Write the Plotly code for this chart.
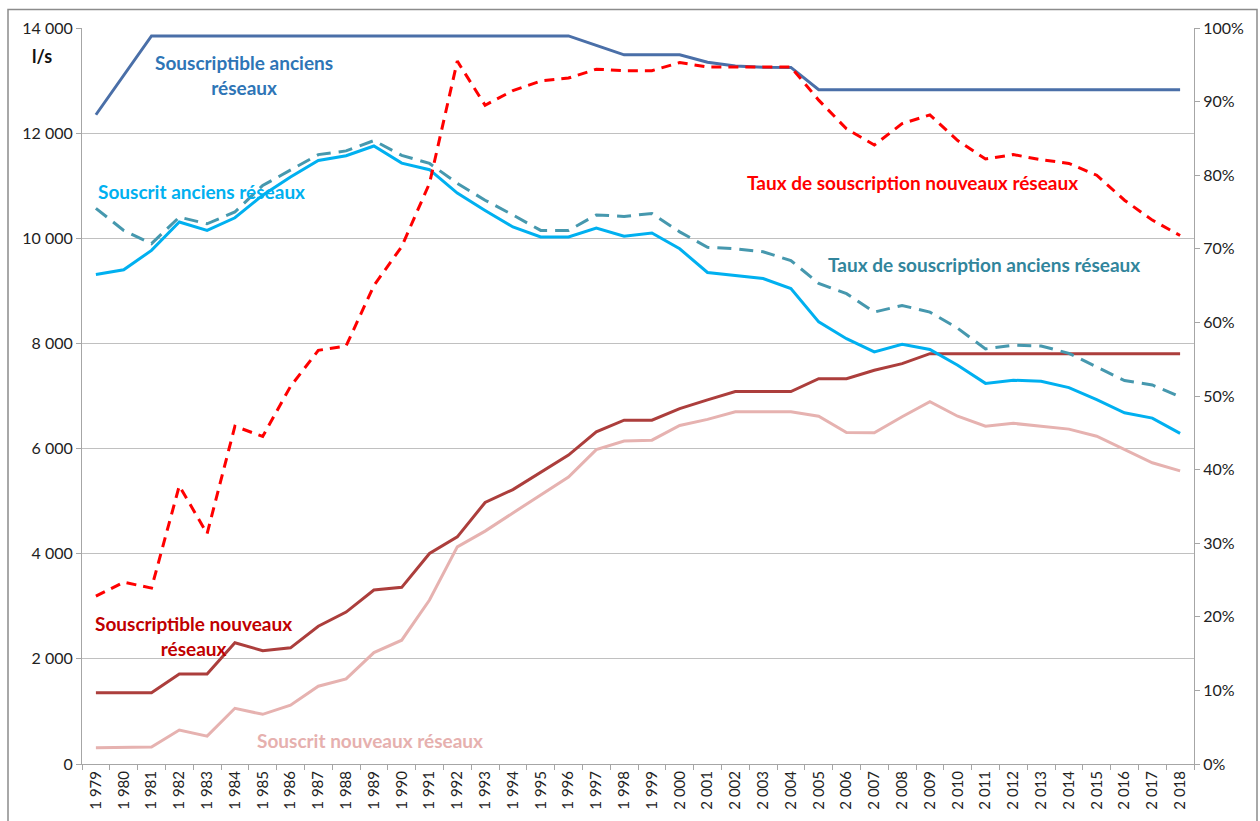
import plotly.graph_objects as go

years = list(range(1979, 2019))
year_labels = [f"{y // 1000} {y % 1000:03d}" for y in years]

souscriptible_anciens = [12350, 13100, 13850, 13850, 13850, 13850, 13850, 13850, 13850, 13850,
                         13850, 13850, 13850, 13850, 13850, 13850, 13850, 13850, 13670, 13490,
                         13490, 13490, 13350, 13275, 13255, 13250, 12825, 12825, 12825, 12825,
                         12825, 12825, 12825, 12825, 12825, 12825, 12825, 12825, 12825, 12825]

souscrit_anciens = [9310, 9400, 9770, 10310, 10150, 10390, 10820, 11165, 11480, 11570,
                    11755, 11430, 11305, 10860, 10530, 10215, 10025, 10025, 10195, 10040,
                    10100, 9800, 9350, 9295, 9235, 9045, 8410, 8090, 7840, 7985,
                    7885, 7585, 7240, 7300, 7280, 7160, 6930, 6680, 6580, 6290]

souscriptible_nouveaux = [1355, 1355, 1355, 1710, 1710, 2305, 2155, 2210, 2620, 2890,
                          3310, 3360, 4005, 4320, 4975, 5220, 5540, 5875, 6320, 6540,
                          6540, 6760, 6925, 7085, 7085, 7085, 7330, 7330, 7490, 7615,
                          7805, 7805, 7805, 7805, 7805, 7805, 7805, 7805, 7805, 7805]

souscrit_nouveaux = [310, 323, 323, 645, 530, 1060, 945, 1120, 1480, 1620,
                     2120, 2355, 3120, 4130, 4430, 4775, 5125, 5460, 5980, 6145,
                     6160, 6440, 6555, 6700, 6700, 6700, 6615, 6305, 6300, 6605,
                     6890, 6615, 6425, 6480, 6425, 6370, 6235, 5980, 5730, 5575]

taux_nouveaux = [22.8, 24.7, 23.9, 37.8, 31.3, 45.9, 44.5, 51.3, 56.2, 56.8,
                 65.0, 70.3, 78.9, 95.5, 89.5, 91.5, 92.8, 93.2, 94.4, 94.2,
                 94.2, 95.3, 94.7, 94.7, 94.6, 94.7, 90.2, 86.3, 84.1, 87.0,
                 88.2, 84.7, 82.2, 82.8, 82.1, 81.6, 80.0, 76.6, 73.9, 71.8]

taux_anciens = [75.5, 72.5, 70.7, 74.3, 73.4, 75.0, 78.6, 80.7, 82.8, 83.3,
                84.7, 82.7, 81.6, 78.9, 76.6, 74.6, 72.5, 72.5, 74.6, 74.4,
                74.8, 72.3, 70.2, 70.0, 69.6, 68.4, 65.3, 63.9, 61.4, 62.3,
                61.4, 59.2, 56.4, 56.9, 56.8, 55.8, 54.0, 52.1, 51.5, 49.9]

left_ticks = [0, 2000, 4000, 6000, 8000, 10000, 12000, 14000]
left_labels = ["0", "2 000", "4 000", "6 000", "8 000", "10 000", "12 000", "14 000"]
right_ticks = [0, 10, 20, 30, 40, 50, 60, 70, 80, 90, 100]
right_labels = [f"{t}%" for t in right_ticks]

FONT = "Lato, 'Open Sans', sans-serif"

fig = go.Figure()

def add_line(y, color, axis="y", dash="solid", width=3):
    fig.add_trace(go.Scatter(x=year_labels, y=y, mode="lines", yaxis=axis,
                             line=dict(color=color, width=width, dash=dash),
                             showlegend=False, hoverinfo="skip"))

add_line(souscrit_nouveaux, "#E6B2B0")
add_line(souscriptible_nouveaux, "#AC3E3C")
add_line(souscrit_anciens, "#00B0F0")
add_line(souscriptible_anciens, "#4A6FA8")
add_line(taux_anciens, "#4698AE", axis="y2", dash="14px,8px")
add_line(taux_nouveaux, "#FF0000", axis="y2", dash="10px,7px")

PL, PR, PT, PB = 82, 1194, 27.5, 764

labels = [
    dict(px=42, py=56, text="<b>l/s</b>", color="#111111", size=18),
    dict(px=244, py=75, text="<b>Souscriptible anciens<br>réseaux</b>", color="#2E75B6"),
    dict(px=96, py=191, text="<b>Souscrit anciens réseaux</b>", color="#00B0F0", anchor="left"),
    dict(px=745, py=182, text="<b>Taux de souscription nouveaux réseaux</b>", color="#FF0000", anchor="left"),
    dict(px=826, py=264, text="<b>Taux de souscription anciens réseaux</b>", color="#31859C", anchor="left"),
    dict(px=193, py=636, text="<b>Souscriptible nouveaux<br>réseaux</b>", color="#C00000"),
    dict(px=255, py=740, text="<b>Souscrit nouveaux réseaux</b>", color="#E6B0AE", anchor="left"),
]

ann_out = []
for a in labels:
    ann_out.append(dict(
        x=(a["px"] - PL) / (PR - PL), y=(PB - a["py"]) / (PB - PT),
        xref="paper", yref="paper", text=a["text"], showarrow=False,
        xanchor=a.get("anchor", "center"), yanchor="middle", align="center",
        font=dict(size=a.get("size", 19), color=a["color"], family=FONT)))

fig.update_layout(
    width=1260, height=821,
    margin=dict(l=PL, r=1260 - PR, t=PT, b=821 - PB, autoexpand=False),
    paper_bgcolor="white", plot_bgcolor="white",
    font=dict(family=FONT, color="#333333"),
    annotations=ann_out,
    xaxis=dict(type="category", tickangle=-90, tickson="boundaries", ticks="outside",
               ticklen=5, tickcolor="#A6A6A6", showline=True, linecolor="#A6A6A6",
               showgrid=False, tickfont=dict(size=15, color="#222222"),
               range=[-0.5, len(years) - 0.5], automargin=False),
    yaxis=dict(range=[0, 14000], tickvals=left_ticks, ticktext=left_labels,
               showgrid=True, gridcolor="#C0C0C0", gridwidth=1.3, zeroline=False,
               showline=True, linecolor="#A6A6A6", ticks="outside", ticklen=5,
               tickcolor="#A6A6A6", tickfont=dict(size=16, color="#222222"),
               automargin=False),
    yaxis2=dict(range=[0, 100], overlaying="y", side="right", tickvals=right_ticks,
                ticktext=right_labels, showgrid=False, zeroline=False,
                showline=True, linecolor="#A6A6A6", ticks="outside", ticklen=5,
                tickcolor="#A6A6A6", tickfont=dict(size=16, color="#222222"),
                automargin=False),
    shapes=[dict(type="rect", xref="paper", yref="paper",
                 x0=(8 - PL) / (PR - PL), x1=(1257 - PL) / (PR - PL),
                 y0=(PB - 840) / (PB - PT), y1=(PB - 9) / (PB - PT),
                 line=dict(color="#8C8C8C", width=1.5), fillcolor="rgba(0,0,0,0)",
                 layer="above")],
)

fig.write_html("out.html", config={"displayModeBar": False},
               post_script="document.body.style.margin='0px';document.body.style.overflow='hidden';")
